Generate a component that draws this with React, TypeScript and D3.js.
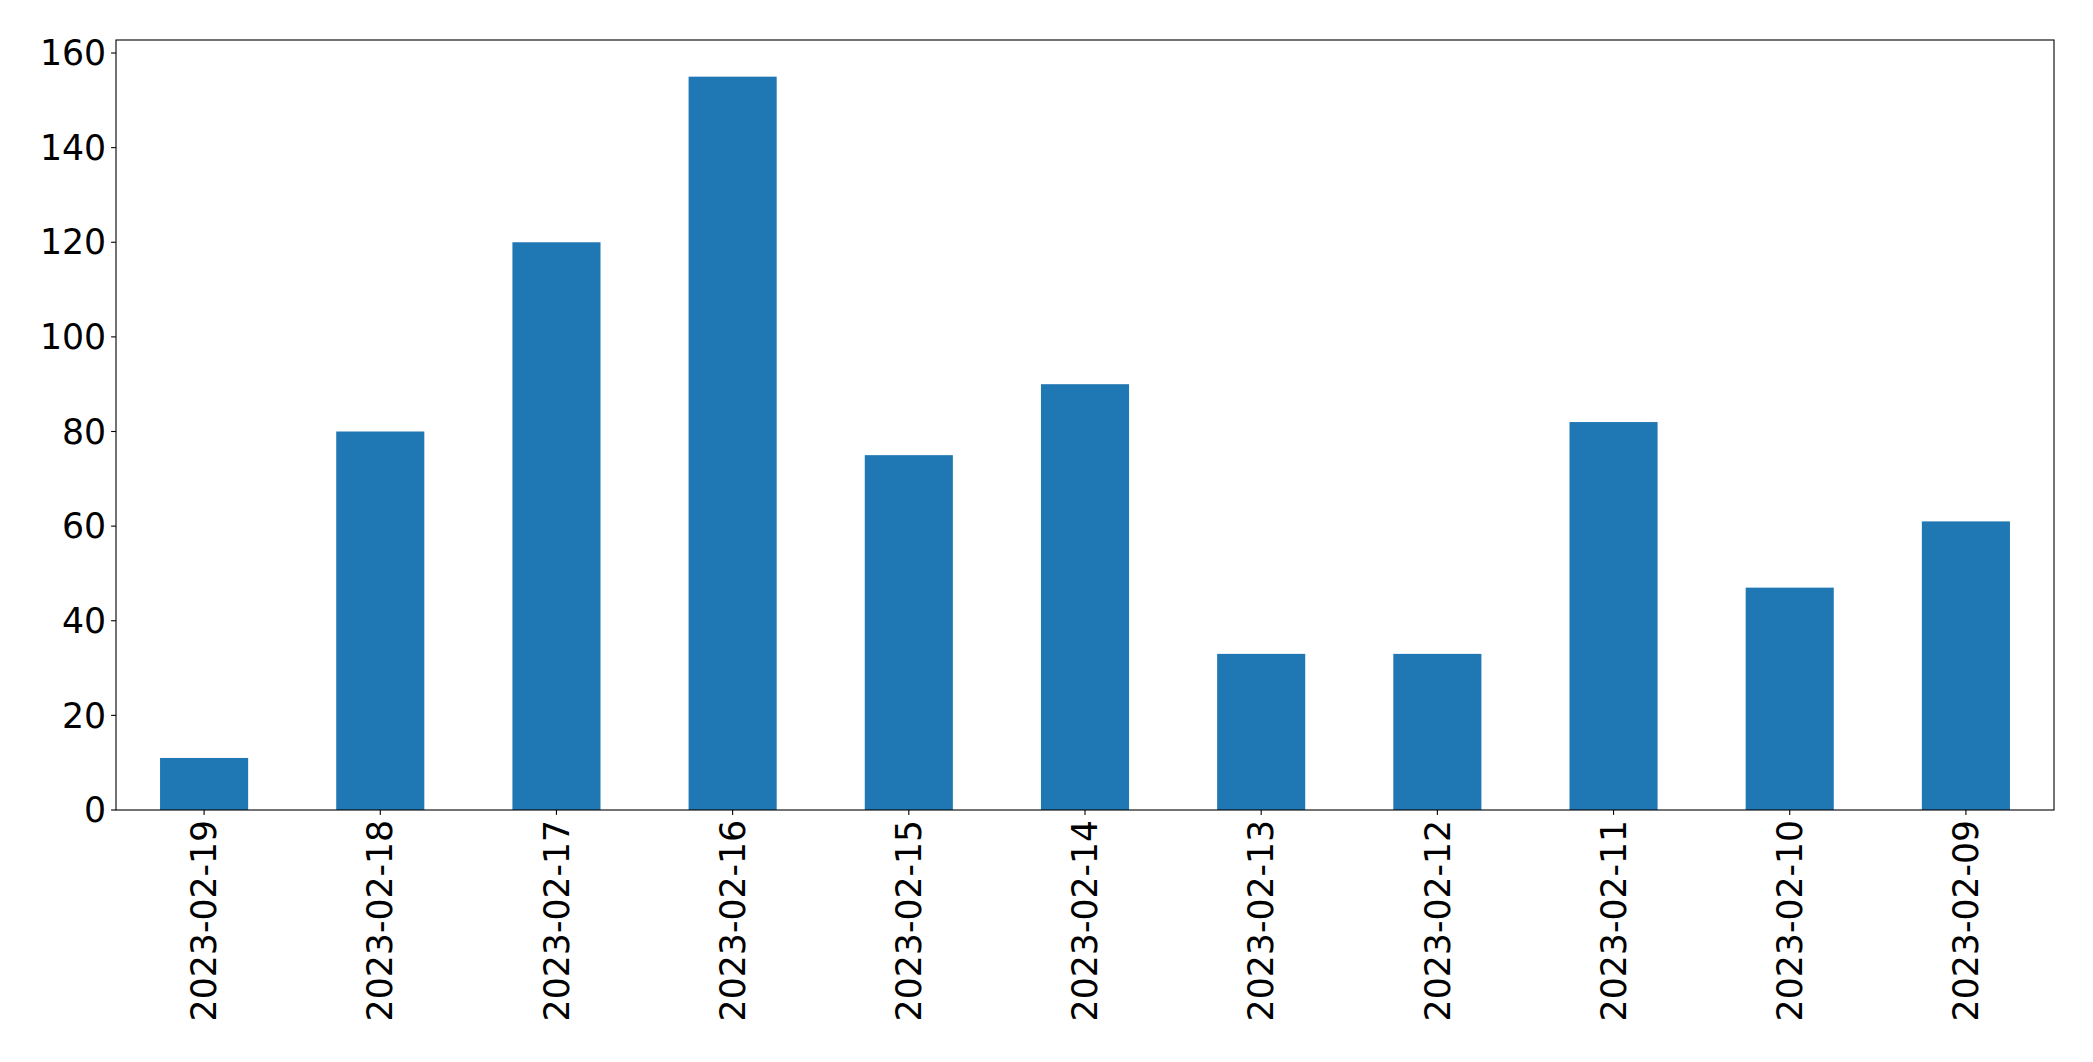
import React from "react";
import * as d3 from "d3";

const categories = ["2023-02-19","2023-02-18","2023-02-17","2023-02-16","2023-02-15","2023-02-14","2023-02-13","2023-02-12","2023-02-11","2023-02-10","2023-02-09"];
const values = [11, 80, 120, 155, 75, 90, 33, 33, 82, 47, 61];
const yTicks = [0, 20, 40, 60, 80, 100, 120, 140, 160];

const W = 2093, H = 1062;
const M = { left: 116, right: 2054, top: 40, bottom: 810 };
const FS = 34.7;

export default function App() {
  const x = d3.scaleBand<string>().domain(categories).range([M.left, M.right]).paddingInner(0.5).paddingOuter(0.25);
  const y = d3.scaleLinear().domain([0, d3.max(values)! * 1.05]).range([M.bottom, M.top]);
  return (
    <svg width={W} height={H} style={{ position: "absolute", left: 0, top: 0, background: "#fff" }}
      fontFamily="DejaVu Sans">
      {values.map((v, i) => (
        <rect key={i} x={x(categories[i])} y={y(v)} width={x.bandwidth()} height={y(0) - y(v)} fill="#1f77b4" />
      ))}
      <rect x={M.left} y={M.top} width={M.right - M.left} height={M.bottom - M.top} fill="none" stroke="#000" strokeWidth={1.1} />
      {yTicks.map(t => (
        <g key={t}>
          <line x1={M.left - 4.9} x2={M.left} y1={y(t)} y2={y(t)} stroke="#000" strokeWidth={1.1} />
          <text x={M.left - 4.9 - 4.9} y={y(t)} dy="0.35em" textAnchor="end" fontSize={FS} fill="#000">{t}</text>
        </g>
      ))}
      {categories.map(c => {
        const cx = x(c)! + x.bandwidth() / 2;
        return (
          <g key={c}>
            <line x1={cx} x2={cx} y1={M.bottom} y2={M.bottom + 4.9} stroke="#000" strokeWidth={1.1} />
            <text transform={`translate(${cx},${M.bottom + 9.8}) rotate(-90)`} textAnchor="end" dy="0.35em" fontSize={FS} fill="#000">{c}</text>
          </g>
        );
      })}
    </svg>
  );
}
